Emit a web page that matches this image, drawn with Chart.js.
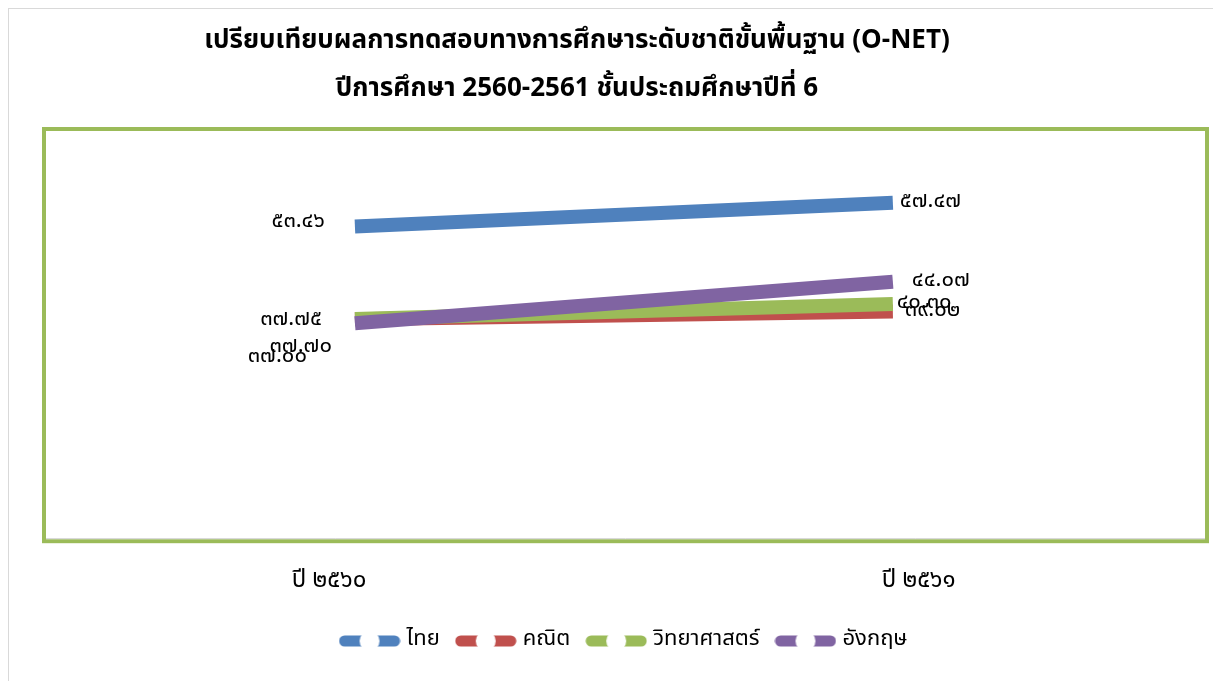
<!DOCTYPE html>
<html lang="th">
<head>
<meta charset="utf-8">
<script src="https://cdn.jsdelivr.net/npm/chart.js@4"></script>
<style>
  html, body { margin: 0; padding: 0; background: #fff; }
  #wrap { width: 1213px; height: 681px; position: relative; }
</style>
</head>
<body>
<div id="wrap"><canvas id="chart" width="1213" height="681"></canvas></div>
<script>
const FONT = "'Noto Sans Thai', 'Noto Sans', Tahoma, sans-serif"

// Chart data
const TITLE_LINES = [
  'เปรียบเทียบผลการทดสอบทางการศึกษาระดับชาติขั้นพื้นฐาน (O-NET)',
  'ปีการศึกษา 2560-2561 ชั้นประถมศึกษาปีที่ 6'
]
const CATEGORIES = ['ปี ๒๕๖๐', 'ปี ๒๕๖๑']
const SERIES_NAMES = ['ไทย', 'คณิต', 'วิทยาศาสตร์', 'อังกฤษ']
const THAI_VALUES = [53.46, 57.47]
const MATH_VALUES = [37.70, 39.02]
const SCIENCE_VALUES = [37.75, 40.30]
const ENGLISH_VALUES = [37.00, 44.07]

const SERIES_COLORS = ['#4F81BD', '#C0504D', '#9BBB59', '#8064A2']

// label offsets (dx, dy) per series / point so the crowded labels do not overlap
const LABEL_NUDGE = [
  [[0, -4], [0, 0]],
  [[7, 28], [5, 0]],
  [[-3, 2], [-3, 0]],
  [[-18, 34], [12, 0]]
]
// category labels sit a little outside the line ends (as in the original)
const TICK_SPREAD = 0.048

const THAI_DIGITS = '๐๑๒๓๔๕๖๗๘๙'
const toThaiDigits = (str) => str.replace(/[0-9]/g, d => THAI_DIGITS[+d])

/**
 * Legend marker: thick line with a white round marker in the middle.
 */
function legendMarker (color) {
  const c = document.createElement('canvas')
  c.width = 62
  c.height = 22
  const g = c.getContext('2d')
  g.strokeStyle = color
  g.lineWidth = 11
  g.lineCap = 'round'
  g.beginPath()
  g.moveTo(6, 11)
  g.lineTo(56, 11)
  g.stroke()
  g.fillStyle = '#fff'
  g.beginPath()
  g.arc(31, 11, 10, 0, Math.PI * 2)
  g.fill()
  return c
}

// outer frame, two-line title and the green plot box
const frameAndBox = {
  id: 'frameAndBox',
  beforeDraw (chart) {
    const ctx = chart.ctx
    ctx.save()
    ctx.strokeStyle = '#d9d9d9'
    ctx.lineWidth = 1
    ctx.strokeRect(8.5, 8.5, 1300, 800)
    ctx.fillStyle = '#000'
    ctx.font = 'bold 26px ' + FONT
    ctx.textAlign = 'center'
    ctx.textBaseline = 'middle'
    TITLE_LINES.forEach((line, i) => ctx.fillText(line, 577, 43 + i * 48))
    ctx.restore()
  },
  beforeDatasetsDraw (chart) {
    const { left, top, width, height } = chart.chartArea
    const ctx = chart.ctx
    ctx.save()
    ctx.strokeStyle = '#9BBB59'
    ctx.lineWidth = 4
    ctx.strokeRect(left, top, width, height)
    ctx.strokeStyle = '#d0d0d0'
    ctx.lineWidth = 1
    ctx.beginPath()
    ctx.moveTo(left + 2, top + height - 2.5)
    ctx.lineTo(left + width - 2, top + height - 2.5)
    ctx.stroke()
    ctx.restore()
  }
}

const valueLabels = {
  id: 'valueLabels',
  afterDatasetsDraw (chart) {
    const ctx = chart.ctx
    ctx.save()
    ctx.font = '22px ' + FONT
    ctx.fillStyle = '#000'
    ctx.textBaseline = 'middle'
    chart.data.datasets.forEach((ds, i) => {
      chart.getDatasetMeta(i).data.forEach((pt, j) => {
        const nudge = LABEL_NUDGE[i][j]
        ctx.textAlign = j === 0 ? 'right' : 'left'
        const x = pt.x + (j === 0 ? -30 : 7) + nudge[0]
        ctx.fillText(toThaiDigits(ds.data[j].y.toFixed(2)), x, pt.y + nudge[1])
      })
    })
    ctx.restore()
  }
}

const allValues = [THAI_VALUES, MATH_VALUES, SCIENCE_VALUES, ENGLISH_VALUES]

new Chart(document.getElementById('chart'), {
  type: 'line',
  data: {
    datasets: allValues.map((vals, i) => ({
      label: SERIES_NAMES[i],
      data: vals.map((v, idx) => ({ x: idx, y: v })),
      // later series are painted on top, like the spreadsheet original
      order: allValues.length - i,
      borderColor: SERIES_COLORS[i],
      backgroundColor: SERIES_COLORS[i],
      borderWidth: 14,
      borderCapStyle: 'butt',
      pointRadius: 0,
      pointHoverRadius: 0,
      pointStyle: legendMarker(SERIES_COLORS[i]),
      tension: 0
    }))
  },
  options: {
    responsive: false,
    animation: false,
    layout: { padding: { left: 44, right: 6, top: 129, bottom: 19 } },
    plugins: {
      title: { display: false },
      legend: {
        position: 'bottom',
        labels: {
          usePointStyle: true,
          pointStyleWidth: 52,
          padding: 20,
          color: '#000',
          font: { family: FONT, size: 22 },
          sort: (a, b) => a.datasetIndex - b.datasetIndex
        }
      },
      tooltip: { enabled: false }
    },
    scales: {
      x: {
        type: 'linear',
        min: -0.578,
        max: 1.584,
        grid: { display: false, drawTicks: false },
        border: { display: false },
        afterBuildTicks: (scale) => {
          scale.ticks = CATEGORIES.map((_, i) => ({ value: i + (i === 0 ? -TICK_SPREAD : TICK_SPREAD) }))
        },
        afterFit: (scale) => {
          scale.height -= 14
        },
        ticks: {
          padding: 27,
          color: '#000',
          font: { family: FONT, size: 24 },
          callback: (value, index) => CATEGORIES[index]
        }
      },
      y: {
        display: false,
        min: 0,
        max: 70
      }
    }
  },
  plugins: [frameAndBox, valueLabels]
})
</script>
</body>
</html>
